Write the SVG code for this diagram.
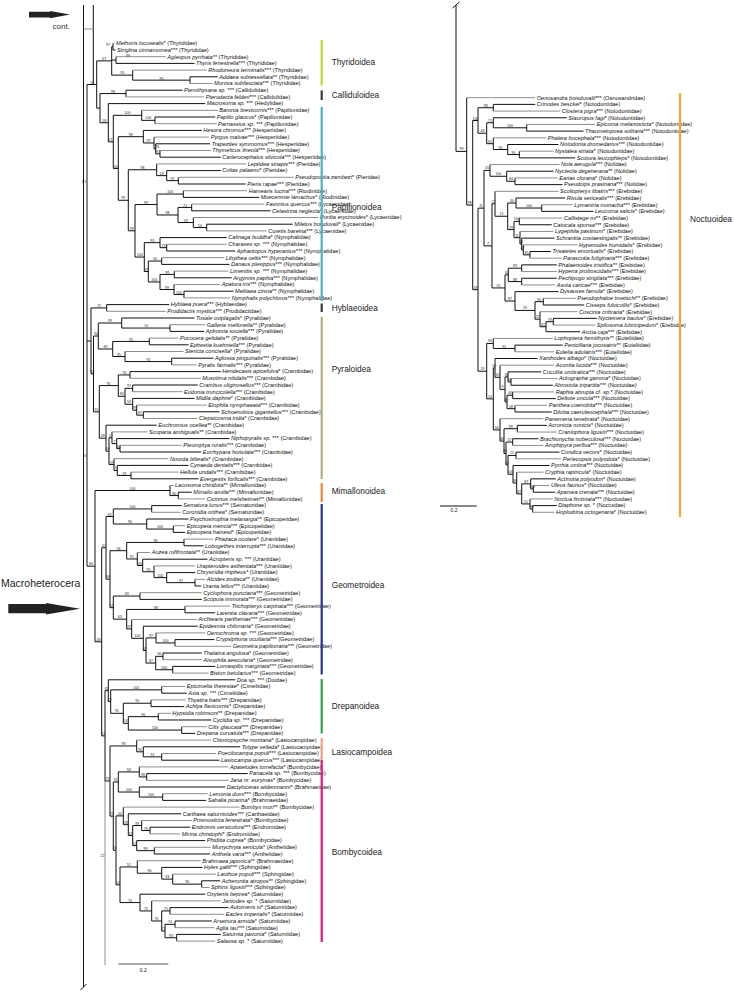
<svg xmlns="http://www.w3.org/2000/svg" width="735" height="992" viewBox="0 0 735 992">
<style>
text{font-family:"Liberation Sans",Arial,sans-serif;font-size:5.6px;fill:#111}
.i{font-style:italic}
.bs{font-size:3.5px;text-anchor:middle;fill:#222}
.be{font-size:3.5px;text-anchor:end;fill:#222}
.cl{font-size:8.3px;fill:#222}
.k{fill:none;stroke:#111;stroke-width:1;vector-effect:non-scaling-stroke}
.g{fill:none;stroke:#8e8e8e;stroke-width:1;vector-effect:non-scaling-stroke}
.bar{stroke-width:2.2;fill:none}
</style>
<rect width="735" height="992" fill="#fff"/>
<g id="connectors">
<g id="left-tree-lines" transform="translate(0,36.6) scale(1,6.7)">
<path class="k" d="M83.5,-4.716V141.85 M93.3,-4.716V7.15 M87,7.15V79.04 M87,7.15H96.7 M87,45.43H91 M87,79.04H95
M96.7,3.625V10.68 M96.7,3.625H111.7 M96.7,10.68H100
M111.7,1.5V5.75 M111.7,1.5H113 M111.7,3.5H116 M111.7,5.75H132.7 M113,1V2 M116,3V4 M132.7,5V6.5 M132.7,6.5H190 M190,6V7
M100,8.5V12.86 M100,8.5H126 M100,12.86H108.3 M126,8V9
M108.3,10V15.72 M108.3,15.72H113.3 M113.3,11.75V19.68 M113.3,11.75H141.7 M113.3,19.68H118.3
M141.7,11V12.5 M141.7,12.5H155 M155,12V13
M118.3,14.9375V24.43 M118.3,14.9375H143.3 M118.3,24.43H128.3
M143.3,14V15.875 M143.3,15.875H154 M154,15V16.75 M154,16.75H155.7 M155.7,16V17.5 M155.7,17.5H160 M160,17V18
M128.3,19.875V28.984 M128.3,19.875H156.7 M128.3,28.984H135
M156.7,19V20.75 M156.7,20.75H166.7 M166.7,20V21.5 M166.7,21.5H178.3 M178.3,21V22
M135,25.0625V32.906 M135,25.0625H157 M135,32.906H144.3
M157,23.5V26.625 M157,23.5H183.3 M157,26.625H178 M183.3,23V24
M178,25.5V27.75 M178,25.5H191.7 M178,27.75H193.3 M191.7,25V26 M193.3,27V28.5 M193.3,28.5H206.7 M206.7,28V29
M144.3,30.75V35.0625 M144.3,30.75H160 M144.3,35.0625H148.3 M160,30V31.5 M160,31.5H166.7 M166.7,31V32
M148.3,33.5V36.625 M148.3,33.5H161.7 M148.3,36.625H160 M161.7,33V34
M160,35.5V37.75 M160,35.5H174.3 M160,37.75H174 M174.3,35V36 M174,37V38.5 M174,38.5H184 M184,38V39
M91,40.5V50.35 M91,40.5H106.7 M91,50.35H93.5 M106.7,40V41
M93.5,44.69V56.01 M93.5,44.69H98.3 M93.5,56.01H99.3
M98.3,42.75V46.625 M98.3,42.75H121.7 M98.3,46.625H112.7
M121.7,42V43.5 M121.7,43.5H170 M170,43V44 M112.7,45.5V47.75 M112.7,45.5H149.3 M112.7,47.75H125 M149.3,45V46 M125,47V48.5 M125,48.5H171.7 M171.7,48V49
M99.3,52.09V59.94 M99.3,52.09H118.3 M99.3,59.94H106
M118.3,50.5V53.69 M118.3,50.5H130 M118.3,53.69H125 M130,50V51 M125,52.5V54.875 M125,52.5H132.7 M125,54.875H132.7 M132.7,52V53
M132.7,54V55.75 M132.7,55.75H136.7 M136.7,55V56.5 M136.7,56.5H143.3 M143.3,56V57
M106,58V61.875 M106,61.875H109 M109,59.875V63.875 M109,59.875H112 M109,63.875H114
M112,59V60.75 M112,60.75H116.7 M116.7,60V61.5 M116.7,61.5H120 M120,61V62
M114,63V64.75 M114,64.75H117.3 M117.3,64V65.5 M117.3,65.5H131 M131,65V66
M95,67.75V90.33 M95,67.75H170 M95,90.33H101.7 M170,67V68.5 M170,68.5H178.3 M178.3,68V69
M101.7,76.3V104.37 M101.7,76.3H106 M101.7,104.37H105
M106,71.625V80.98 M106,71.625H113.3 M106,80.98H110
M113.3,70.5V72.75 M113.3,70.5H151.7 M113.3,72.75H146.7 M151.7,70V71 M146.7,72V73.5 M146.7,73.5H173.3 M173.3,73V74
M110,76.73V85.23 M110,76.73H126.7 M110,85.23H113.3
M126.7,75.5V77.97 M126.7,75.5H184 M126.7,77.97H137.3 M184,75V76
M137.3,77V78.9375 M137.3,78.9375H142.7 M142.7,78V79.875 M142.7,79.875H154 M154,79V80.75 M154,80.75H166.7 M166.7,80V81.5 M166.7,81.5H195 M195,81V82
M113.3,83.5V86.95 M113.3,83.5H140 M113.3,86.95H126.7 M140,83V84
M126.7,85.5V88.41 M126.7,85.5H185 M126.7,88.41H131.7 M185,85V86
M131.7,87V89.81 M131.7,89.81H143.3 M143.3,88V91.625 M143.3,91.625H146
M146,89.75V93.5 M146,89.75H156 M146,93.5H155.7 M156,89V90.5 M156,90.5H175 M175,90V91
M155.7,92.5V94.5 M155.7,92.5H163 M155.7,94.5H172.7 M163,92V93 M172.7,94V95
M105,97.625V111.11 M105,97.625H108.3 M105,111.11H110
M108.3,96V99.25 M108.3,99.25H110.7 M110.7,97.5V101 M110.7,97.5H161.7 M110.7,101H123.3 M161.7,97V98
M123.3,99.5V102.5 M123.3,99.5H151 M123.3,102.5H128.3 M151,99V100
M128.3,101.5V103.5 M128.3,101.5H158.3 M128.3,103.5H181.7 M158.3,101V102 M181.7,103V104
M110,105.875V116.35 M110,105.875H136.7 M110,116.35H113.3
M136.7,105V106.75 M136.7,106.75H143.3 M143.3,106V107.5 M143.3,107.5H161.7 M161.7,107V108
M113.3,111.25V121.45 M113.3,111.25H118.3 M113.3,121.45H116
M118.3,109.75V112.75 M118.3,109.75H139.3 M118.3,112.75H139.3
M139.3,109V110.5 M139.3,110.5H146.7 M146.7,110V111 M139.3,112V113.5 M139.3,113.5H162.7 M162.7,113V114
M116,116.31V126.6 M116,116.31H123.3 M116,126.6H120
M123.3,115V117.625 M123.3,117.625H128.3 M128.3,116V119.25 M128.3,119.25H132.7
M132.7,117.75V120.75 M132.7,117.75H141.7 M132.7,120.75H136.7
M141.7,117V118.5 M141.7,118.5H150 M150,118V119 M136.7,120V121.5 M136.7,121.5H154.3 M154.3,121V122
M120,123.94V129.25 M120,123.94H137.3 M120,129.25H140
M137.3,123V124.875 M137.3,124.875H161.7 M161.7,124V125.75 M161.7,125.75H172.7 M172.7,125V126.5 M172.7,126.5H201.7 M201.7,126V127
M140,128V130.5 M140,130.5H151.7 M151.7,129V132 M151.7,132H161.7
M161.7,130.5V133.5 M161.7,130.5H170 M161.7,133.5H165 M170,130V131
M165,132.5V134.5 M165,132.5H175 M165,134.5H176.7 M175,132V133 M176.7,134V135"/>
<path class="g" d="M83.5,-1.134H93.3 M105,111.11V138.57"/>
<path class="g" d="M113,1H114.5 M116,3H165.8 M132.7,5H206.8 M190,7H212.5 M126,9H204.2 M141.7,11H217.8 M155,13H216.5 M154,15H209.2 M160,17H210.8 M156.7,19H246.2 M178.3,21H293.8 M183.3,23H247.2 M191.7,25H264.5 M193.3,27H318.5 M206.7,29H266.8 M166.7,31H226.8 M161.7,33H224.2 M174.3,35H228.5 M174,37H220.2 M184,39H230.2 M106.7,41H165.8 M170,43H205.2 M149.3,45H178.5 M125,47H183.5 M171.7,49H196.8 M130,51H200.8 M132.7,53H182.5 M136.7,55H206.8 M143.3,57H197.5 M112,59H147.5 M120,61H181.8 M114,63H168.5 M131,65H178.5 M170,67H173.5 M178.3,69H205.2 M151.7,71H180.8 M173.3,73H185.2 M184,75H213.5 M137.3,77H150.2 M154,79H195.2 M195,81H205.2 M140,83H201.8 M185,85H230.2 M131.7,87H196.8 M156,89H205.2 M175,91H231.2 M163,93H201.8 M172.7,95H208.5 M161.7,97H185.2 M151,99H185.8 M158.3,101H170.8 M181.7,103H206.8 M136.7,105H211.2 M161.7,107H216.2 M139.3,109H228.5 M146.7,111H228.5 M162.7,113H207.8 M123.3,115H239.5 M141.7,117H191.8 M150,119H180.2 M154.3,121H210.8 M137.3,123H200.8 M172.7,125H215.8 M201.7,127H209.5 M151.7,129H220.8 M170,131H224.2 M175,133H214.5 M176.7,135H215.2"/>
<path class="k" d="M113,2H115.5 M116,4H194.5 M190,6H217.8 M126,8H182.5 M108.3,10H205.2 M155,12H215.2 M143.3,14H201.8 M155.7,16H210.2 M160,18H220.8 M166.7,20H220.8 M178.3,22H245.8 M183.3,24H259.2 M191.7,26H270.5 M206.7,28H292.8 M160,30H226.8 M166.7,32H235.2 M161.7,34H229.5 M174.3,36H231.8 M184,38H233.5 M106.7,40H169.2 M121.7,42H194.5 M170,44H204.2 M149.3,46H188.5 M171.7,48H213.5 M130,50H220.8 M132.7,52H197.8 M132.7,54H194.5 M143.3,56H219.5 M106,58H156.8 M116.7,60H229.5 M120,62H201.2 M117.3,64H188.5 M131,66H198.5 M178.3,68H191.8 M151.7,70H181.8 M146.7,72H188.5 M173.3,74H185.2 M184,76H203.5 M142.7,78H207.5 M166.7,80H195.2 M195,82H201.2 M140,84H201.8 M185,86H215.2 M143.3,88H197.8 M175,90H214.5 M163,92H201.8 M172.7,94H215.2 M108.3,96H235.2 M161.7,98H186.8 M151,100H184.2 M158.3,102H211.2 M181.7,104H195.2 M143.3,106H240.2 M161.7,108H219.5 M146.7,110H247.8 M139.3,112H225.2 M162.7,114H206.2 M128.3,116H181.2 M150,118H190.2 M136.7,120H205.2 M154.3,122H210.2 M161.7,124H202.5 M201.7,126H220.2 M140,128H205.2 M170,130H228.5 M175,132H211.8 M176.7,134H220.8"/>
</g>
<g id="right-tree-lines" transform="translate(0,91.013) scale(1,6.687)">
<path class="k" d="M456,-12.86V9.03 M456,9.03H466.7 M466.7,1V17.06 M466.7,17.06H472.7
M472.7,4.41V29.71 M472.7,4.41H478 M472.7,29.71H478
M478,2.5V6.31 M478,2.5H493.3 M478,6.31H486.7 M493.3,2V3
M486.7,4.75V7.875 M486.7,4.75H493.3 M486.7,7.875H493.3 M493.3,4V5.5 M493.3,5.5H526.7 M526.7,5V6
M493.3,7V8.75 M493.3,8.75H507.7 M507.7,8V9.5 M507.7,9.5H519.3 M519.3,9V10
M478,17.52V41.9 M478,17.52H484 M478,41.9H486.7
M484,11.875V23.16 M484,11.875H490 M484,23.16H492
M490,11V12.75 M490,12.75H506.7 M506.7,12V13.5 M506.7,13.5H515 M515,13V14
M492,16.87V29.45 M492,16.87H495 M492,29.45H505
M495,15V18.73 M495,18.73H507.7 M507.7,16.75V20.72 M507.7,16.75H516 M507.7,20.72H514
M516,16V17.5 M516,17.5H541.7 M541.7,17V18
M514,19.5V21.94 M514,19.5H519.3 M514,21.94H520 M519.3,19V20
M520,21V22.875 M520,22.875H521.7 M521.7,22V23.75 M521.7,23.75H523.3 M523.3,23V24.5 M523.3,24.5H530 M530,24V25
M505,27.5V31.41 M505,27.5H508.3 M505,31.41H515
M508.3,26.5V28.5 M508.3,26.5H521.7 M508.3,28.5H521.7 M521.7,26V27 M521.7,28V29
M515,30V32.81 M515,32.81H535 M535,31.5V34.125 M535,31.5H543.3 M535,34.125H540 M543.3,31V32
M540,33V35.25 M540,35.25H546 M546,34.5V36 M546,34.5H553.3 M553.3,34V35
M486.7,37.75V46.04 M486.7,37.75H493.3 M486.7,46.04H493.3
M493.3,37V38.5 M493.3,38.5H515 M515,38V39
M493.3,41.41V50.68 M493.3,41.41H495 M493.3,50.68H500
M495,40V42.81 M495,42.81H500 M500,41V44.625 M500,44.625H505
M505,42.75V46.5 M505,42.75H508 M505,46.5H507 M508,42V43.5 M508,43.5H511 M511,43V44
M507,45.5V47.5 M507,45.5H512.7 M507,47.5H515 M512.7,45V46 M515,47V48
M500,49V52.35 M500,52.35H504 M504,50.5V54.2 M504,50.5H517.3 M504,54.2H506 M517.3,50V51
M506,52.5V55.91 M506,52.5H512.7 M506,55.91H508 M512.7,52V53
M508,54.5V57.31 M508,54.5H516 M508,57.31H513 M516,54V55
M513,56V58.625 M513,58.625H516.7 M516.7,57V60.25 M516.7,60.25H521.7
M521.7,58.75V61.75 M521.7,58.75H530.7 M521.7,61.75H530
M530.7,58V59.5 M530.7,59.5H533.3 M533.3,59V60 M530,61V62.5 M530,62.5H532.7 M532.7,62V63"/>
<path class="g" d="M466.7,1H535.2 M493.3,3H560.2 M526.7,5H595.2 M493.3,7H546.2 M519.3,9H553.5 M490,11H559.5 M515,13H557.8 M495,15H558.5 M541.7,17H572.8 M519.3,19H562.5 M520,21H553.5 M523.3,23H577.5 M530,25H561.8 M521.7,27H556.8 M521.7,29H555.2 M543.3,31H575.8 M540,33H577.5 M553.3,35H595.2 M493.3,37H552.8 M515,39H554.2 M500,41H554.2 M511,43H557.5 M512.7,45H554.2 M515,47H547.2 M500,49H543.5 M517.3,51H556.8 M512.7,53H543.5 M516,55H561.2 M516.7,57H543.5 M533.3,59H549.5 M530,61H552.8 M532.7,63H554.5"/>
<path class="k" d="M493.3,2H535.2 M493.3,4H566.8 M526.7,6H583.5 M507.7,8H558.5 M519.3,10H575.2 M506.7,12H553.5 M515,14H562.5 M516,16H565.2 M541.7,18H593.5 M519.3,20H551.8 M521.7,22H554.5 M530,24H550.8 M521.7,26H556.8 M521.7,28H556.8 M515,30H558.5 M543.3,32H584.2 M553.3,34H596.8 M546,36H580.2 M515,38H562.8 M495,40H537.5 M508,42H541.2 M511,44H552.8 M512.7,46H555.8 M515,48H551.8 M517.3,50H546.8 M512.7,52H538.5 M516,54H559.5 M513,56H549.5 M530.7,58H555.8 M533.3,60H555.2 M532.7,62H556.8"/>
</g>
<path class="k" d="M80.5,990L86.5,984 M452.5,8L459.5,2"/>
</g>
<g id="support-left">
<text class="bs" x="104.2" y="59.9">67</text><text class="bs" x="108" y="45.6">97</text><text class="bs" x="128" y="57.3">99</text><text class="bs" x="122.2" y="74.1">93</text><text class="bs" x="161.4" y="80.2">95</text>
<text class="bs" x="113" y="92.6">98</text><text class="bs" x="104.2" y="121.8">58</text><text class="bs" x="110.8" y="140.9">21</text><text class="bs" x="127.5" y="114.3">100</text><text class="bs" x="148.4" y="119.4">100</text>
<text class="bs" x="130.8" y="135.7">98</text><text class="bs" x="148.7" y="142">97</text><text class="bs" x="157.2" y="147.8">76</text><text class="bs" x="157.9" y="152.9">97</text><text class="bs" x="115.8" y="167.5">50</text>
<text class="bs" x="123.3" y="199.3">99</text><text class="bs" x="142.5" y="168.8">98</text><text class="bs" x="161.7" y="174.6">59</text><text class="bs" x="172.5" y="179.7">97</text><text class="bs" x="131.7" y="229.8">99</text>
<text class="bs" x="146" y="203.5">99</text><text class="bs" x="170.2" y="193">100</text><text class="bs" x="167.5" y="214">98</text><text class="bs" x="184.9" y="206.5">72</text><text class="bs" x="185.7" y="221.5">59</text><text class="bs" x="200" y="226.6">50</text>
<text class="bs" x="139.7" y="256.1">100</text><text class="bs" x="152.2" y="241.6">93</text><text class="bs" x="163.4" y="246.7">73</text><text class="bs" x="146.3" y="270.5">29</text><text class="bs" x="155" y="260">56</text><text class="bs" x="154.2" y="281">100</text><text class="bs" x="167.2" y="273.5">99</text><text class="bs" x="167" y="288.5">99</text><text class="bs" x="179" y="293.6">100</text>
<text class="bs" x="91.9" y="83.5">10</text><text class="bs" x="98.9" y="307">72</text><text class="bs" x="92.3" y="372.9">92</text><text class="bs" x="95.9" y="335">94</text><text class="bs" x="110" y="322">99</text><text class="bs" x="145.9" y="327">74</text><text class="bs" x="105.5" y="348">89</text><text class="bs" x="131" y="340.5">92</text><text class="bs" x="118.9" y="355.5">95</text><text class="bs" x="148.4" y="360.6">91</text>
<text class="bs" x="96.4" y="410.9">91</text><text class="bs" x="108.8" y="384.6">91</text><text class="bs" x="124.2" y="374">76</text><text class="bs" x="121.7" y="395.3">83</text><text class="bs" x="128.9" y="387.4">97</text><text class="bs" x="128.9" y="403.3">59</text><text class="bs" x="134.7" y="409.1">99</text><text class="bs" x="140" y="414.2">87</text>
<text class="bs" x="102.7" y="437.2">28</text><text class="bs" x="107.5" y="450.2">16</text><text class="bs" x="110.5" y="436.8">5</text><text class="bs" x="114.4" y="442.6">7</text><text class="bs" x="118.4" y="447.7">40</text><text class="bs" x="111.5" y="463.6">59</text><text class="bs" x="115.7" y="469.4">5</text><text class="bs" x="124.2" y="474.5">19</text>
<text class="bs" x="91" y="565.2">84</text><text class="bs" x="132.5" y="489.5">100</text><text class="bs" x="174.2" y="494.6">80</text><text class="bs" x="98.4" y="640.8">48</text><text class="bs" x="103.9" y="546.8">41</text><text class="bs" x="109.7" y="515.5">82</text><text class="bs" x="132.5" y="508">100</text><text class="bs" x="130" y="523">96</text><text class="bs" x="160" y="528.1">100</text>
<text class="bs" x="108" y="578.2">68</text><text class="bs" x="118.4" y="549.7">58</text><text class="bs" x="155.4" y="541.5">96</text><text class="bs" x="132" y="558">91</text><text class="bs" x="140" y="564.5">90</text><text class="bs" x="148.4" y="570.8">95</text><text class="bs" x="160.4" y="576.6">100</text><text class="bs" x="180.9" y="581.7">97</text>
<text class="bs" x="111.7" y="606.6">57</text><text class="bs" x="126.7" y="595.1">83</text><text class="bs" x="120" y="618.2">63</text><text class="bs" x="155.9" y="608.5">98</text><text class="bs" x="129.2" y="628">97</text><text class="bs" x="137.5" y="637.3">100</text><text class="bs" x="144.7" y="649.5">83</text><text class="bs" x="151" y="636.9">97</text><text class="bs" x="165.5" y="642">100</text><text class="bs" x="150.9" y="662.1">87</text><text class="bs" x="159.4" y="655.4">80</text><text class="bs" x="164.2" y="668.8">100</text>
<text class="bs" x="103.4" y="734.9">19</text><text class="bs" x="106.7" y="689.7">82</text><text class="bs" x="109.5" y="700.6">29</text><text class="bs" x="136.2" y="688.9">100</text><text class="bs" x="117" y="712.3">91</text><text class="bs" x="137.2" y="702.3">90</text><text class="bs" x="125.8" y="722.4">14</text><text class="bs" x="143.3" y="715.7">90</text><text class="bs" x="155" y="729.1">100</text>
<text class="bs" x="107.5" y="780">73</text><text class="bs" x="123.4" y="745">99</text><text class="bs" x="140" y="750.8">90</text><text class="bs" x="152.5" y="755.9">91</text><text class="bs" x="111.7" y="815.1">27</text><text class="bs" x="115.8" y="781">91</text><text class="bs" x="128.8" y="770.9">58</text><text class="bs" x="143" y="776">98</text><text class="bs" x="128.8" y="791">100</text><text class="bs" x="151" y="796.1">100</text>
<text class="bs" x="114.7" y="849.3">20</text><text class="bs" x="119.7" y="814.9">44</text><text class="bs" x="125.8" y="823.7">28</text><text class="bs" x="130.5" y="834.6">19</text><text class="bs" x="137.2" y="824.5">99</text><text class="bs" x="145.9" y="829.6">76</text><text class="bs" x="134.7" y="844.6">13</text><text class="bs" x="145.5" y="849.7">99</text>
<text class="bs" x="118" y="883.8">54</text><text class="bs" x="128.7" y="866">52</text><text class="bs" x="149.5" y="872.3">96</text><text class="bs" x="167.2" y="878.1">93</text><text class="bs" x="187.2" y="883.2">96</text><text class="bs" x="130" y="901.6">74</text><text class="bs" x="145.9" y="910">75</text><text class="bs" x="156.7" y="920">91</text><text class="bs" x="165.9" y="910">75</text><text class="bs" x="163.4" y="930.1">77</text><text class="bs" x="170" y="923.4">74</text><text class="bs" x="170.9" y="936.8">93</text>
<text class="be" x="86" y="183">61</text><text class="be" x="86" y="457">3</text><text class="be" x="104.5" y="857">22</text>
</g>
<g id="support-right">
<text class="bs" x="461.4" y="150.4">99</text><text class="bs" x="469.7" y="204.1">98</text><text class="bs" x="475.4" y="288.7">58</text><text class="bs" x="475.4" y="119.5">100</text><text class="bs" x="485.7" y="106.7">98</text><text class="bs" x="482.4" y="132.2">48</text><text class="bs" x="490" y="121.8">71</text><text class="bs" x="510" y="126.8">100</text><text class="bs" x="490" y="142.7">61</text><text class="bs" x="500.5" y="148.5">90</text><text class="bs" x="513.5" y="153.5">90</text>
<text class="bs" x="481" y="207.2">11</text><text class="bs" x="487" y="169.4">55</text><text class="bs" x="498.4" y="175.3">100</text><text class="bs" x="510.9" y="180.3">84</text><text class="bs" x="488" y="244.9">7</text><text class="bs" x="493.5" y="202.8">21</text><text class="bs" x="501.4" y="215.3">12</text><text class="bs" x="511.9" y="202">30</text><text class="bs" x="528.9" y="207">100</text>
<text class="bs" x="510.9" y="228.6">79</text><text class="bs" x="516.7" y="220.4">100</text><text class="bs" x="517" y="236.7">11</text><text class="bs" x="520.9" y="243">14</text><text class="bs" x="522.5" y="248.8">47</text><text class="bs" x="526.7" y="253.8">85</text>
<text class="bs" x="498.5" y="286.9">55</text><text class="bs" x="506.7" y="274">30</text><text class="bs" x="515" y="267.2">89</text><text class="bs" x="515" y="280.6">88</text><text class="bs" x="510" y="300">87</text><text class="bs" x="525" y="309.4">19</text><text class="bs" x="539.2" y="300.7">90</text><text class="bs" x="537.5" y="318.2">25</text><text class="bs" x="543" y="325.7">41</text><text class="bs" x="549.7" y="320.7">79</text>
<text class="bs" x="482.4" y="370.2">19</text><text class="bs" x="490" y="342.4">94</text><text class="bs" x="504.2" y="347.5">91</text><text class="bs" x="490" y="397.9">14</text><text class="bs" x="494.2" y="366.9">50</text><text class="bs" x="497.5" y="376.3">10</text><text class="bs" x="502.5" y="388.4">9</text><text class="bs" x="506.5" y="375.9">30</text><text class="bs" x="509.5" y="380.9">80</text><text class="bs" x="506" y="401">30</text><text class="bs" x="509.9" y="394.3">44</text><text class="bs" x="511" y="407.6">58</text>
<text class="bs" x="496.7" y="428.9">56</text><text class="bs" x="502" y="440.1">30</text><text class="bs" x="510.7" y="427.7">99</text><text class="bs" x="505" y="452.4">38</text><text class="bs" x="509.4" y="441.1">57</text><text class="bs" x="507" y="463.9">20</text><text class="bs" x="512" y="454.4">15</text><text class="bs" x="510.5" y="473.2">100</text><text class="bs" x="514.9" y="482">90</text><text class="bs" x="519.2" y="493">87</text><text class="bs" x="526.2" y="483">87</text><text class="bs" x="532" y="488">100</text><text class="bs" x="525.9" y="503">51</text><text class="bs" x="531.4" y="508">90</text>
</g>
<g id="tips-left">
<text id="L1" x="116" y="45.1"><tspan class="i">Methoris locusealis</tspan>* (Thyrididae)</text>
<text id="L2" x="117" y="51.8"><tspan class="i">Striglina cinnamomea</tspan>*** (Thyrididae)</text>
<text id="L3" x="167.3" y="58.5"><tspan class="i">Agleopus pyrrhata</tspan>** (Thyrididae)</text>
<text id="L4" x="196" y="65.2"><tspan class="i">Thyris fenestrella</tspan>*** (Thyrididae)</text>
<text id="L5" x="208.3" y="71.9"><tspan class="i">Rhodoneura terminalis</tspan>*** (Thyrididae)</text>
<text id="L6" x="219.3" y="78.6"><tspan class="i">Addaea subtessellata</tspan>** (Thyrididae)</text>
<text id="L7" x="214" y="85.3"><tspan class="i">Morova subfasciata</tspan>*** (Thyrididae)</text>
<text id="L8" x="184" y="92"><tspan class="i">Pterothysana sp.</tspan> *** (Callidulidae)</text>
<text id="L9" x="205.7" y="98.7"><tspan class="i">Pterodecta felderi</tspan>*** (Callidulidae)</text>
<text id="L10" x="206.7" y="105.4"><tspan class="i">Macrosoma sp.</tspan> *** (Hedylidae)</text>
<text id="L11" x="219.3" y="112.1"><tspan class="i">Baronia brevicornis</tspan>*** (Papilionidae)</text>
<text id="L12" x="216.7" y="118.8"><tspan class="i">Papilio glaucus</tspan>* (Papilionidae)</text>
<text id="L13" x="218" y="125.5"><tspan class="i">Parnassius sp.</tspan> *** (Papilionidae)</text>
<text id="L14" x="203.3" y="132.2"><tspan class="i">Hesora chromus</tspan>*** (Hesperiidae)</text>
<text id="L15" x="210.7" y="138.9"><tspan class="i">Pyrgus malvae</tspan>*** (Hesperiidae)</text>
<text id="L16" x="211.7" y="145.6"><tspan class="i">Trapezites symmomus</tspan>*** (Hesperiidae)</text>
<text id="L17" x="212.3" y="152.3"><tspan class="i">Thymelicus lineola</tspan>*** (Hesperiidae)</text>
<text id="L18" x="222.3" y="159"><tspan class="i">Carterocephalus silvicola</tspan>*** (Hesperiidae)</text>
<text id="L19" x="247.7" y="165.7"><tspan class="i">Leptidea sinapis</tspan>*** (Pieridae)</text>
<text id="L20" x="222.3" y="172.4"><tspan class="i">Colias palaeno</tspan>* (Pieridae)</text>
<text id="L21" x="295.3" y="179.1"><tspan class="i">Pseudopontia zambezi</tspan>* (Pieridae)</text>
<text id="L22" x="247.3" y="185.8"><tspan class="i">Pieris rapae</tspan>*** (Pieridae)</text>
<text id="L23" x="248.7" y="192.5"><tspan class="i">Hamearis lucina</tspan>*** (Riodinidae)</text>
<text id="L24" x="260.7" y="199.2"><tspan class="i">Moecenmie lamachus</tspan>* (Riodinidae)</text>
<text id="L25" x="266" y="205.9"><tspan class="i">Favonius quercus</tspan>*** (Lycaenidae)</text>
<text id="L26" x="272" y="212.6"><tspan class="i">Celastrina neglecta</tspan>* (Lycaenidae)</text>
<text id="L27" x="320" y="219.3"><tspan class="i">Poritia erycinoides</tspan>* (Lycaenidae)</text>
<text id="L28" x="294.3" y="226"><tspan class="i">Miletus boisduvali</tspan>* (Lycaenidae)</text>
<text id="L29" x="268.3" y="232.7"><tspan class="i">Curetis bareina</tspan>*** (Lycaenidae)</text>
<text id="L30" x="228.3" y="239.4"><tspan class="i">Calinaga buddha</tspan>* (Nymphalidae)</text>
<text id="L31" x="228.3" y="246.1"><tspan class="i">Charaxes sp.</tspan> *** (Nymphalidae)</text>
<text id="L32" x="236.7" y="252.8"><tspan class="i">Aphantopus hyperantus</tspan>*** (Nymphalidae)</text>
<text id="L33" x="225.7" y="259.5"><tspan class="i">Libythea celtis</tspan>*** (Nymphalidae)</text>
<text id="L34" x="231" y="266.2"><tspan class="i">Danaus plexippus</tspan>*** (Nymphalidae)</text>
<text id="L35" x="230" y="272.9"><tspan class="i">Limenitis sp.</tspan> *** (Nymphalidae)</text>
<text id="L36" x="233.3" y="279.6"><tspan class="i">Argynnis paphia</tspan>*** (Nymphalidae)</text>
<text id="L37" x="221.7" y="286.3"><tspan class="i">Apatura iris</tspan>*** (Nymphalidae)</text>
<text id="L38" x="235" y="293"><tspan class="i">Melitaea cinxia</tspan>** (Nymphalidae)</text>
<text id="L39" x="231.7" y="299.7"><tspan class="i">Nymphalis polychloros</tspan>*** (Nymphalidae)</text>
<text id="L40" x="170.7" y="306.4"><tspan class="i">Hyblaea puera</tspan>*** (Hyblaeidae)</text>
<text id="L41" x="167.3" y="313.1"><tspan class="i">Prodidactis mystica</tspan>*** (Prodidactidae)</text>
<text id="L42" x="196" y="319.8"><tspan class="i">Tosale oviplagalis</tspan>* (Pyralidae)</text>
<text id="L43" x="206.7" y="326.5"><tspan class="i">Galleria mellonella</tspan>** (Pyralidae)</text>
<text id="L44" x="205.7" y="333.2"><tspan class="i">Aphomia sociella</tspan>*** (Pyralidae)</text>
<text id="L45" x="180" y="339.9"><tspan class="i">Pococera gelidalis</tspan>** (Pyralidae)</text>
<text id="L46" x="190" y="346.6"><tspan class="i">Ephestia kuehniella</tspan>*** (Pyralidae)</text>
<text id="L47" x="185" y="353.3"><tspan class="i">Stericta concisella</tspan>* (Pyralidae)</text>
<text id="L48" x="215" y="360"><tspan class="i">Aglossa pinguinalis</tspan>*** (Pyralidae)</text>
<text id="L49" x="198.3" y="366.7"><tspan class="i">Pyralis farinalis</tspan>*** (Pyralidae)</text>
<text id="L50" x="222.3" y="373.4"><tspan class="i">Hendecasis apicefulva</tspan>* (Crambidae)</text>
<text id="L51" x="202.3" y="380.1"><tspan class="i">Musotima nitidalis</tspan>*** (Crambidae)</text>
<text id="L52" x="199.3" y="386.8"><tspan class="i">Crambus uliginosellus</tspan>*** (Crambidae)</text>
<text id="L53" x="184" y="393.5"><tspan class="i">Eudonia truncicolella</tspan>*** (Crambidae)</text>
<text id="L54" x="196" y="400.2"><tspan class="i">Midila daphne</tspan>* (Crambidae)</text>
<text id="L55" x="208.3" y="406.9"><tspan class="i">Elophila nymphaeata</tspan>*** (Crambidae)</text>
<text id="L56" x="221" y="413.6"><tspan class="i">Schoenobius gigantellus</tspan>*** (Crambidae)</text>
<text id="L57" x="199" y="420.3"><tspan class="i">Clepsicosma iridia</tspan>* (Crambidae)</text>
<text id="L58" x="158.3" y="427"><tspan class="i">Euchromius ocellea</tspan>** (Crambidae)</text>
<text id="L59" x="149" y="433.7"><tspan class="i">Scoparia ambigualis</tspan>** (Crambidae)</text>
<text id="L60" x="231" y="440.4"><tspan class="i">Niphopyralis sp.</tspan> *** (Crambidae)</text>
<text id="L61" x="183.3" y="447.1"><tspan class="i">Pleuroptya ruralis</tspan>*** (Crambidae)</text>
<text id="L62" x="202.7" y="453.8"><tspan class="i">Eurrhypara hortulata</tspan>*** (Crambidae)</text>
<text id="L63" x="170" y="460.5"><tspan class="i">Noorda blitealis</tspan>* (Crambidae)</text>
<text id="L64" x="190" y="467.2"><tspan class="i">Cynaeda dentalis</tspan>*** (Crambidae)</text>
<text id="L65" x="180" y="473.9"><tspan class="i">Hellula undalis</tspan>*** (Crambidae)</text>
<text id="L66" x="200" y="480.6"><tspan class="i">Evergestis forficalis</tspan>*** (Crambidae)</text>
<text id="L67" x="175" y="487.3"><tspan class="i">Lacosoma chiridota</tspan>** (Mimallonidae)</text>
<text id="L68" x="193.3" y="494"><tspan class="i">Mimallo amilia</tspan>*** (Mimallonidae)</text>
<text id="L69" x="206.7" y="500.7"><tspan class="i">Cicinnus melsheimeri</tspan>** (Mimallonidae)</text>
<text id="L70" x="183.3" y="507.4"><tspan class="i">Sematura lunus</tspan>*** (Sematuridae)</text>
<text id="L71" x="182.3" y="514.1"><tspan class="i">Coronidia orithea</tspan>* (Sematuridae)</text>
<text id="L72" x="190" y="520.8"><tspan class="i">Psychostrophia melanargia</tspan>** (Epicopeiidae)</text>
<text id="L73" x="186.7" y="527.5"><tspan class="i">Epicopeia mencia</tspan>*** (Epicopeiidae)</text>
<text id="L74" x="186.7" y="534.2"><tspan class="i">Epicopeia hainesii</tspan>* (Epicopeiidae)</text>
<text id="L75" x="215" y="540.9"><tspan class="i">Phazaca oculare</tspan>* (Uraniidae)</text>
<text id="L76" x="205" y="547.6"><tspan class="i">Lobogethes interrupta</tspan>*** (Uraniidae)</text>
<text id="L77" x="151.7" y="554.3"><tspan class="i">Auzea rufifrontata</tspan>** (Uraniidae)</text>
<text id="L78" x="209" y="561"><tspan class="i">Acropteris sp.</tspan> *** (Uraniidae)</text>
<text id="L79" x="196.7" y="567.7"><tspan class="i">Urapteroides astheniata</tspan>*** (Uraniidae)</text>
<text id="L80" x="196.7" y="574.4"><tspan class="i">Chrysiridia rhipheus</tspan>* (Uraniidae)</text>
<text id="L81" x="206.7" y="581.1"><tspan class="i">Alcides zodiaca</tspan>** (Uraniidae)</text>
<text id="L82" x="202.7" y="587.8"><tspan class="i">Urania leilus</tspan>*** (Uraniidae)</text>
<text id="L83" x="203.3" y="594.5"><tspan class="i">Cyclophora punctaria</tspan>*** (Geometridae)</text>
<text id="L84" x="203.3" y="601.2"><tspan class="i">Scopula immorata</tspan>*** (Geometridae)</text>
<text id="L85" x="231.7" y="607.9"><tspan class="i">Trichopteryx carpinata</tspan>*** (Geometridae)</text>
<text id="L86" x="216.7" y="614.6"><tspan class="i">Larentia clavaria</tspan>*** (Geometridae)</text>
<text id="L87" x="198.3" y="621.3"><tspan class="i">Archiearis parthenias</tspan>*** (Geometridae)</text>
<text id="L88" x="199.3" y="628"><tspan class="i">Epidesmia chilonaria</tspan>* (Geometridae)</text>
<text id="L89" x="206.7" y="634.7"><tspan class="i">Oenochroma sp.</tspan> *** (Geometridae)</text>
<text id="L90" x="216" y="641.4"><tspan class="i">Crypsiphona ocultaria</tspan>*** (Geometridae)</text>
<text id="L91" x="232.7" y="648.1"><tspan class="i">Geometra papilionaria</tspan>*** (Geometridae)</text>
<text id="L92" x="203.3" y="654.8"><tspan class="i">Thalaina angulosa</tspan>* (Geometridae)</text>
<text id="L93" x="203.3" y="661.5"><tspan class="i">Alsophila aescularia</tspan>* (Geometridae)</text>
<text id="L94" x="216.7" y="668.2"><tspan class="i">Lomaspilis marginata</tspan>*** (Geometridae)</text>
<text id="L95" x="210" y="674.9"><tspan class="i">Biston betularius</tspan>*** (Geometridae)</text>
<text id="L96" x="236.7" y="681.6"><tspan class="i">Doa sp.</tspan> *** (Doidae)</text>
<text id="L97" x="186.7" y="688.3"><tspan class="i">Epicimelia theresiae</tspan>* (Cimeliidae)</text>
<text id="L98" x="188.3" y="695"><tspan class="i">Axia sp.</tspan> *** (Cimeliidae)</text>
<text id="L99" x="187.3" y="701.7"><tspan class="i">Thyatira batis</tspan>*** (Drepanidae)</text>
<text id="L100" x="185.7" y="708.4"><tspan class="i">Achlya flavicornis</tspan>* (Drepanidae)</text>
<text id="L101" x="172.3" y="715.1"><tspan class="i">Hypsidia robinsoni</tspan>** (Drepanidae)</text>
<text id="L102" x="212.7" y="721.8"><tspan class="i">Cyclidia sp.</tspan> *** (Drepanidae)</text>
<text id="L103" x="208.3" y="728.5"><tspan class="i">Cilix glaucata</tspan>*** (Drepanidae)</text>
<text id="L104" x="196.7" y="735.2"><tspan class="i">Drepana curvatula</tspan>*** (Drepanidae)</text>
<text id="L105" x="212.7" y="741.9"><tspan class="i">Chionopsyche montana</tspan>* (Lasiocampidae)</text>
<text id="L106" x="241.7" y="748.6"><tspan class="i">Tolype velleda</tspan>* (Lasiocampidae)</text>
<text id="L107" x="217.7" y="755.3"><tspan class="i">Poecilocampa populi</tspan>*** (Lasiocampidae)</text>
<text id="L108" x="221" y="762"><tspan class="i">Lasiocampa quercus</tspan>*** (Lasiocampidae)</text>
<text id="L109" x="230" y="768.7"><tspan class="i">Apatelodes torrefacta</tspan>* (Bombycidae)</text>
<text id="L110" x="249.3" y="775.4"><tspan class="i">Panacela sp.</tspan> *** (Bombycidae)</text>
<text id="L111" x="230" y="782.1"><tspan class="i">Jana nr. eurymas</tspan>* (Bombycidae)</text>
<text id="L112" x="226.7" y="788.8"><tspan class="i">Dactyloceras widenmanni</tspan>* (Brahmaeidae)</text>
<text id="L113" x="209.3" y="795.5"><tspan class="i">Lemonia dumi</tspan>*** (Bombycidae)</text>
<text id="L114" x="207.7" y="802.2"><tspan class="i">Sabalia picarina</tspan>* (Brahmaeidae)</text>
<text id="L115" x="241" y="808.9"><tspan class="i">Bombyx mori</tspan>** (Bombycidae)</text>
<text id="L116" x="182.7" y="815.6"><tspan class="i">Carthaea saturnioides</tspan>*** (Carthaeidae)</text>
<text id="L117" x="193.3" y="822.3"><tspan class="i">Prismosticta fenestrata</tspan>* (Bombycidae)</text>
<text id="L118" x="191.7" y="829"><tspan class="i">Endromis versicolora</tspan>*** (Endromidae)</text>
<text id="L119" x="181.7" y="835.7"><tspan class="i">Mirina christophi</tspan>* (Endromidae)</text>
<text id="L120" x="206.7" y="842.4"><tspan class="i">Phiditia cuprea</tspan>* (Bombycidae)</text>
<text id="L121" x="212.3" y="849.1"><tspan class="i">Munychryia senicula</tspan>* (Anthelidae)</text>
<text id="L122" x="211.7" y="855.8"><tspan class="i">Anthela varia</tspan>*** (Anthelidae)</text>
<text id="L123" x="202.3" y="862.5"><tspan class="i">Brahmaea japonica</tspan>** (Brahmaeidae)</text>
<text id="L124" x="204" y="869.2"><tspan class="i">Hyles gallii</tspan>*** (Sphingidae)</text>
<text id="L125" x="217.3" y="875.9"><tspan class="i">Laothoe populi</tspan>*** (Sphingidae)</text>
<text id="L126" x="221.7" y="882.6"><tspan class="i">Acherontia atropos</tspan>** (Sphingidae)</text>
<text id="L127" x="211" y="889.3"><tspan class="i">Sphinx ligustri</tspan>*** (Sphingidae)</text>
<text id="L128" x="206.7" y="896"><tspan class="i">Oxytenis beprea</tspan>* (Saturniidae)</text>
<text id="L129" x="222.3" y="902.7"><tspan class="i">Janiodes sp.</tspan> * (Saturniidae)</text>
<text id="L130" x="230" y="909.4"><tspan class="i">Automeris io</tspan>* (Saturniidae)</text>
<text id="L131" x="225.7" y="916.1"><tspan class="i">Eacles imperialis</tspan>* (Saturniidae)</text>
<text id="L132" x="213.3" y="922.8"><tspan class="i">Arsenura armida</tspan>* (Saturniidae)</text>
<text id="L133" x="216" y="929.5"><tspan class="i">Aglia tau</tspan>*** (Saturniidae)</text>
<text id="L134" x="222.3" y="936.2"><tspan class="i">Saturnia pavonia</tspan>* (Saturniidae)</text>
<text id="L135" x="216.7" y="942.9"><tspan class="i">Salassa sp.</tspan> * (Saturniidae)</text>
</g>
<g id="tips-right">
<text id="R1" x="536.7" y="99.5"><tspan class="i">Oenosandra boisduvalii</tspan>*** (Oenosandridae)</text>
<text id="R2" x="536.7" y="106.2"><tspan class="i">Crinodes besckei</tspan>* (Notodontidae)</text>
<text id="R3" x="561.7" y="112.9"><tspan class="i">Clostera pigra</tspan>*** (Notodontidae)</text>
<text id="R4" x="568.3" y="119.6"><tspan class="i">Stauropus fagi</tspan>* (Notodontidae)</text>
<text id="R5" x="596.7" y="126.2"><tspan class="i">Epicoma melanosticta</tspan>* (Notodontidae)</text>
<text id="R6" x="585" y="132.9"><tspan class="i">Thaumetopoea solitaria</tspan>*** (Notodontidae)</text>
<text id="R7" x="547.7" y="139.6"><tspan class="i">Phalera bucephala</tspan>*** (Notodontidae)</text>
<text id="R8" x="560" y="146.3"><tspan class="i">Notodonta dromedarius</tspan>*** (Notodontidae)</text>
<text id="R9" x="555" y="153"><tspan class="i">Nystalea striata</tspan>* (Notodontidae)</text>
<text id="R10" x="576.7" y="159.7"><tspan class="i">Scotura leucophleps</tspan>* (Notodontidae)</text>
<text id="R11" x="561" y="166.4"><tspan class="i">Nola aerugula</tspan>*** (Nolidae)</text>
<text id="R12" x="555" y="173.1"><tspan class="i">Nycteola degenerana</tspan>** (Nolidae)</text>
<text id="R13" x="559.3" y="179.7"><tspan class="i">Earias clorana</tspan>* (Nolidae)</text>
<text id="R14" x="564" y="186.4"><tspan class="i">Pseudoips prasinana</tspan>*** (Nolidae)</text>
<text id="R15" x="560" y="193.1"><tspan class="i">Scoliopteryx libatrix</tspan>*** (Erebidae)</text>
<text id="R16" x="566.7" y="199.8"><tspan class="i">Rivula sericealis</tspan>*** (Erebidae)</text>
<text id="R17" x="574.3" y="206.5"><tspan class="i">Lymantria monacha</tspan>*** (Erebidae)</text>
<text id="R18" x="595" y="213.2"><tspan class="i">Leucoma salicis</tspan>* (Erebidae)</text>
<text id="R19" x="564" y="219.9"><tspan class="i">Callistege mi</tspan>** (Erebidae)</text>
<text id="R20" x="553.3" y="226.5"><tspan class="i">Catocala sponsa</tspan>*** (Erebidae)</text>
<text id="R21" x="555" y="233.2"><tspan class="i">Lygephila pastinum</tspan>* (Erebidae)</text>
<text id="R22" x="556" y="239.9"><tspan class="i">Schrankia costaestrigalis</tspan>** (Erebidae)</text>
<text id="R23" x="579" y="246.6"><tspan class="i">Hypenodes humidalis</tspan>* (Erebidae)</text>
<text id="R24" x="552.3" y="253.3"><tspan class="i">Trisateles emortualis</tspan>* (Erebidae)</text>
<text id="R25" x="563.3" y="260"><tspan class="i">Parascotia fuliginaria</tspan>*** (Erebidae)</text>
<text id="R26" x="558.3" y="266.7"><tspan class="i">Phalaenoides tristifica</tspan>** (Erebidae)</text>
<text id="R27" x="558.3" y="273.4"><tspan class="i">Hypena proboscidalis</tspan>*** (Erebidae)</text>
<text id="R28" x="558.3" y="280"><tspan class="i">Pechipogo strigilata</tspan>*** (Erebidae)</text>
<text id="R29" x="556.7" y="286.7"><tspan class="i">Asota caricae</tspan>*** (Erebidae)</text>
<text id="R30" x="560" y="293.4"><tspan class="i">Dysauxes famula</tspan>* (Erebidae)</text>
<text id="R31" x="577.3" y="300.1"><tspan class="i">Pseudophaloe troetschi</tspan>** (Erebidae)</text>
<text id="R32" x="585.7" y="306.8"><tspan class="i">Cisseps fulvicollis</tspan>* (Erebidae)</text>
<text id="R33" x="579" y="313.5"><tspan class="i">Coscinia cribraria</tspan>* (Erebidae)</text>
<text id="R34" x="598.3" y="320.2"><tspan class="i">Nyctemera baulus</tspan>* (Erebidae)</text>
<text id="R35" x="596.7" y="326.9"><tspan class="i">Spilosoma lubricipedum</tspan>* (Erebidae)</text>
<text id="R36" x="581.7" y="333.5"><tspan class="i">Arctia caja</tspan>*** (Erebidae)</text>
<text id="R37" x="554.3" y="340.2"><tspan class="i">Lophoptera hemithyris</tspan>** (Euteliidae)</text>
<text id="R38" x="564.3" y="346.9"><tspan class="i">Penicillaria jocosatrix</tspan>** (Euteliidae)</text>
<text id="R39" x="555.7" y="353.6"><tspan class="i">Eutelia adulatrix</tspan>*** (Euteliidae)</text>
<text id="R40" x="539" y="360.3"><tspan class="i">Xanthodes albago</tspan>* (Noctuidae)</text>
<text id="R41" x="555.7" y="367"><tspan class="i">Acontia lucida</tspan>*** (Noctuidae)</text>
<text id="R42" x="542.7" y="373.7"><tspan class="i">Cucullia umbratica</tspan>*** (Noctuidae)</text>
<text id="R43" x="559" y="380.4"><tspan class="i">Autographa gamma</tspan>* (Noctuidae)</text>
<text id="R44" x="554.3" y="387"><tspan class="i">Abrostola tripartita</tspan>*** (Noctuidae)</text>
<text id="R45" x="555.7" y="393.7"><tspan class="i">Raphia abrupta cf. sp.</tspan>* (Noctuidae)</text>
<text id="R46" x="557.3" y="400.4"><tspan class="i">Deltote uncula</tspan>*** (Noctuidae)</text>
<text id="R47" x="548.7" y="407.1"><tspan class="i">Panthea coenobita</tspan>*** (Noctuidae)</text>
<text id="R48" x="553.3" y="413.8"><tspan class="i">Diloba caeruleocephala</tspan>*** (Noctuidae)</text>
<text id="R49" x="545" y="420.5"><tspan class="i">Panemeria tenebrata</tspan>* (Noctuidae)</text>
<text id="R50" x="548.3" y="427.2"><tspan class="i">Acronicta rumicis</tspan>* (Noctuidae)</text>
<text id="R51" x="558.3" y="433.9"><tspan class="i">Craniophora ligustri</tspan>*** (Noctuidae)</text>
<text id="R52" x="540" y="440.5"><tspan class="i">Brachionycha nubeculosa</tspan>*** (Noctuidae)</text>
<text id="R53" x="545" y="447.2"><tspan class="i">Amphipyra perflua</tspan>*** (Noctuidae)</text>
<text id="R54" x="561" y="453.9"><tspan class="i">Condica vecors</tspan>* (Noctuidae)</text>
<text id="R55" x="562.7" y="460.6"><tspan class="i">Perlecopsis polyodota</tspan>* (Noctuidae)</text>
<text id="R56" x="551" y="467.3"><tspan class="i">Pyrrhia umbra</tspan>*** (Noctuidae)</text>
<text id="R57" x="545" y="474"><tspan class="i">Cryphia raptricula</tspan>* (Noctuidae)</text>
<text id="R58" x="557.3" y="480.7"><tspan class="i">Actinotia polyodon</tspan>* (Noctuidae)</text>
<text id="R59" x="551" y="487.4"><tspan class="i">Ufeus faunus</tspan>* (Noctuidae)</text>
<text id="R60" x="556.7" y="494"><tspan class="i">Apamea crenata</tspan>*** (Noctuidae)</text>
<text id="R61" x="554.3" y="500.7"><tspan class="i">Noctua fimbriata</tspan>*** (Noctuidae)</text>
<text id="R62" x="558.3" y="507.4"><tspan class="i">Diaphone sp.</tspan> * (Noctuidae)</text>
<text id="R63" x="556" y="514.1"><tspan class="i">Hoplodrina octogenaria</tspan>* (Noctuidae)</text>
</g>
<g id="clades">
<g id="Thyridoidea"><path class="bar" stroke="#c2d42e" d="M321.7,40V85.5"/><text class="cl" x="331.7" y="64.5">Thyridoidea</text></g>
<g id="Calliduloidea"><path class="bar" stroke="#3a3a3a" d="M321.7,90.5V100"/><text class="cl" x="331.7" y="98.2">Calliduloidea</text></g>
<g id="Papilionoidea"><path class="bar" stroke="#4ab3c6" d="M321.7,107V301"/><text class="cl" x="331.7" y="210">Papilionoidea</text></g>
<g id="Hyblaeoidea"><path class="bar" stroke="#3a3a3a" d="M321.7,303.5V312"/><text class="cl" x="331.7" y="311">Hyblaeoidea</text></g>
<g id="Pyraloidea"><path class="bar" stroke="#b5ab7c" d="M321.7,317V479"/><text class="cl" x="331.7" y="372">Pyraloidea</text></g>
<g id="Mimallonoidea"><path class="bar" stroke="#f0843c" d="M321.7,483V502"/><text class="cl" x="331.7" y="494">Mimallonoidea</text></g>
<g id="Geometroidea"><path class="bar" stroke="#2c2f8f" d="M321.7,504V674.5"/><text class="cl" x="331.7" y="588">Geometroidea</text></g>
<g id="Drepanoidea"><path class="bar" stroke="#2ba84a" d="M321.7,679V733.5"/><text class="cl" x="331.7" y="708.5">Drepanoidea</text></g>
<g id="Lasiocampoidea"><path class="bar" stroke="#f2a07e" d="M321.7,738V759"/><text class="cl" x="331.7" y="754.5">Lasiocampoidea</text></g>
<g id="Bombycoidea"><path class="bar" stroke="#e2177c" d="M321.7,760V942"/><text class="cl" x="331.7" y="855">Bombycoidea</text></g>
<g id="Noctuoidea"><path class="bar" stroke="#f6a530" d="M680,93V517"/><text class="cl" x="690" y="222">Noctuoidea</text></g>
</g>
<g id="annotations">
<polygon points="29,11.8 50,11.8 50,11 70,14.6 50,18.2 50,17.4 29,17.4" fill="#222"/>
<text x="52.5" y="28.5" style="font-size:8px;fill:#333">cont.</text>
<text x="1" y="587" style="font-size:10.5px;fill:#222">Macroheterocera</text>
<polygon points="8.3,604 46,604 46,603 80,608.7 46,614.4 46,613.3 8.3,613.3" fill="#222"/>
</g>
<g id="scales">
<path d="M118.3,964H168.3" stroke="#8e8e8e" stroke-width="1.3"/>
<text x="143.3" y="972" style="font-size:5px;text-anchor:middle">0.2</text>
<path d="M440,506H476.7" stroke="#111" stroke-width="1"/>
<text x="454" y="512" style="font-size:5px;text-anchor:middle">0.2</text>
</g>
</svg>
